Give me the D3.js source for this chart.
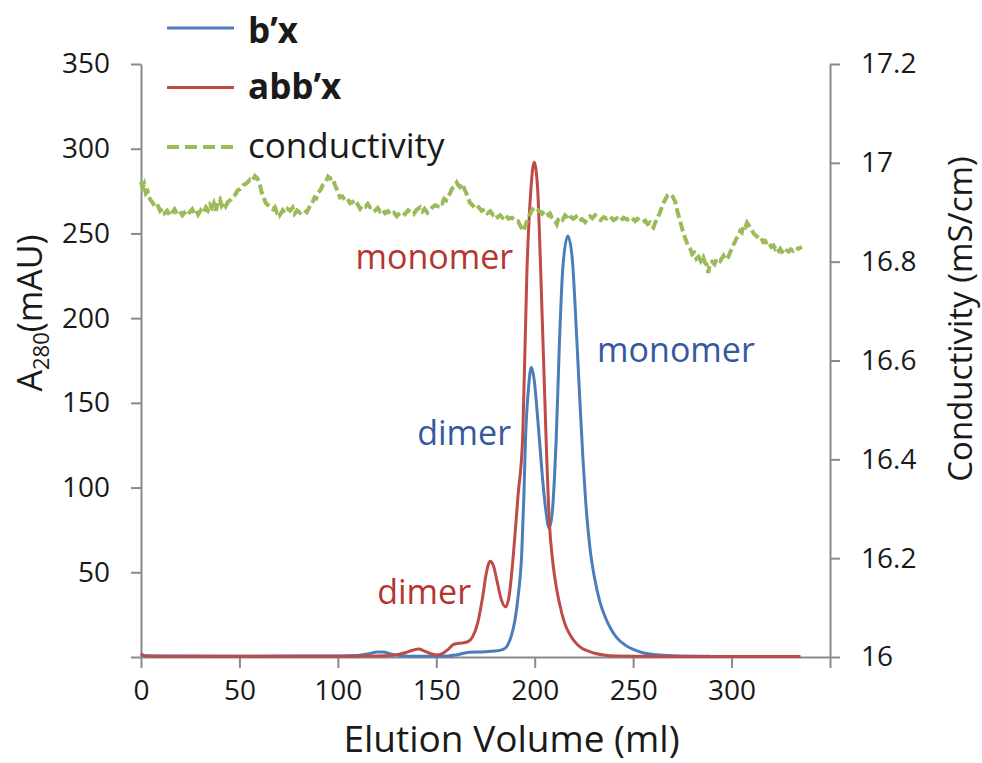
<!DOCTYPE html>
<html>
<head>
<meta charset="utf-8">
<script src="https://cdn.jsdelivr.net/npm/d3@7"></script>
<style>
  body { margin: 0; background: #fff; overflow: hidden; }
  svg { display: block; }
  svg text { font-family: "Open Sans", sans-serif; fill: #1a1a1a; }
  .axis path, .axis line { stroke: #8a8a8a; stroke-width: 2; }
  .axis text { font-size: 28px; }
</style>
</head>
<body>
<div id="vis"></div>
<script>
// elution volume (ml) vs A280 (mAU)
var bxTrace = [[0,2],[2,0.8],[10,0.6],[50,0.5],[100,0.6],[110,0.9],[116,2],[120,3],[123,3],[127,1.8],[132,0.8],
  [140,0.5],[150,0.5],[156,0.6],[160,1.2],[165,2.5],[172,3],[180,3.5],[184,4.5],[186,6.5],[188,12],[190,22],
  [191.5,35],[193.4,61],[194.5,95],[195.3,128],[196.8,158],[198.3,171],[199.8,163],[201,148],[202.4,128],
  [204,105],[205.5,88],[207.3,76],[208.8,84],[210,105],[210.9,128],[212.6,187],[214.3,230],[216.8,248.5],
  [219,236],[221.4,187],[223,150],[224.5,117],[226,90],[228,65],[230.5,46],[233,33],[236,23],[239,16],
  [242,11],[246,7],[250,4.5],[255,2.5],[262,1.3],[270,0.8],[289,0.5]];

var abbxTrace = [[0,1.5],[2,0.6],[20,0.4],[60,0.4],[100,0.5],[120,0.6],[128,1],[134,2.5],[138,4],[141,4.7],
  [144,3.5],[147,2],[150,1.2],[153,2],[156,4.5],[159,7.5],[163,8.3],[166,9],[168.5,12],[171,20],[173.5,35],
  [175.5,50],[177.3,56.5],[179,54],[181,44],[183,34],[185.3,29.5],[187,36],[189.2,61],[191.5,95],[193.9,130],
  [196,226],[198,275],[199.7,292],[201.4,278],[203.1,226],[205.8,128],[207.5,78],[209,58],[211,41],[213,29.5],
  [215.5,19],[218,13],[220,9.5],[223,6],[226,4],[230,2.4],[235,1.2],[242,0.6],[260,0.4],[300,0.3],[335,0.3]];

// elution volume (ml) vs conductivity (mS/cm)
var conductivityTrace = [[0,16.962],[0.8,16.95],[1.6,16.957],[2.5,16.938],[3.4,16.942],[4.6,16.926],[5.8,16.92],
  [7,16.912],[8.2,16.916],[9.7,16.903],[11,16.908],[12,16.898],[13.3,16.903],[14.7,16.893],[16,16.9],[17,16.906],
  [18.3,16.897],[19.8,16.902],[21,16.894],[22,16.899],[23.4,16.893],[24.9,16.901],[26,16.906],[27,16.898],
  [28,16.903],[29,16.895],[30.4,16.904],[31.7,16.899],[33,16.91],[34,16.904],[35,16.915],[36,16.909],[37,16.918],
  [38,16.903],[39,16.92],[40.1,16.926],[41,16.913],[42,16.919],[43,16.912],[44.2,16.921],[45.5,16.925],
  [46.9,16.932],[48,16.936],[49,16.944],[50.5,16.947],[52,16.955],[53.5,16.958],[55.4,16.966],[56.6,16.963],
  [57.9,16.973],[59.2,16.968],[60.5,16.954],[61.3,16.94],[62,16.935],[63,16.922],[63.9,16.916],[65.5,16.912],
  [67.1,16.906],[68,16.91],[69,16.9],[70,16.903],[70.6,16.895],[72,16.904],[73,16.899],[74.4,16.907],
  [75.7,16.903],[77,16.909],[78,16.897],[79.3,16.904],[80.8,16.899],[82.5,16.905],[84.2,16.9],[85.8,16.912],
  [87.4,16.923],[88.2,16.93],[89,16.928],[90,16.94],[91,16.944],[92.5,16.956],[94,16.963],[95,16.972],
  [96,16.968],[97.3,16.97],[98.6,16.954],[100,16.942],[101.1,16.93],[102.3,16.932],[103.5,16.925],
  [104.8,16.928],[106.2,16.918],[107.5,16.921],[109,16.912],[110,16.916],[111.3,16.907],[112.6,16.914],
  [114,16.911],[115.2,16.917],[116.4,16.91],[117.7,16.912],[119,16.904],[120.2,16.909],[121.4,16.902],
  [122.7,16.906],[124,16.898],[125.5,16.902],[127,16.895],[128.5,16.899],[129.9,16.892],[131.2,16.897],
  [132.5,16.901],[134,16.896],[135.7,16.904],[137,16.9],[138.5,16.896],[140,16.905],[141.8,16.91],[143,16.902],
  [144,16.907],[145.5,16.899],[146.8,16.903],[148,16.91],[149.5,16.914],[150.7,16.912],[151.9,16.92],
  [153,16.918],[154,16.927],[155,16.924],[155.9,16.933],[157,16.938],[158,16.948],[159.2,16.952],[160.4,16.96],
  [161.2,16.954],[162,16.951],[163,16.958],[163.5,16.955],[164.5,16.945],[165.5,16.936],[167,16.92],
  [168.9,16.912],[170.2,16.906],[171.5,16.91],[173,16.903],[174.8,16.906],[176,16.898],[177.5,16.902],
  [178.8,16.895],[180,16.898],[181.2,16.89],[182.4,16.894],[183.7,16.889],[185,16.895],[186.7,16.887],
  [188.5,16.889],[190,16.882],[191.6,16.882],[193,16.87],[194.3,16.862],[195.4,16.875],[196.6,16.887],
  [197.7,16.896],[198.7,16.905],[200,16.91],[201.1,16.906],[202.5,16.902],[203.8,16.897],[205,16.903],
  [206,16.9],[207,16.894],[207.8,16.897],[208.7,16.889],[209.5,16.884],[210.4,16.882],[211.2,16.876],
  [212,16.886],[213,16.89],[214.2,16.885],[215.4,16.894],[216.5,16.89],[217.5,16.884],[218.6,16.89],
  [219.7,16.887],[221,16.891],[222.5,16.882],[224,16.886],[225.6,16.88],[226.8,16.887],[228,16.892],
  [229.3,16.888],[230.7,16.894],[232,16.889],[233.5,16.884],[235,16.89],[236.6,16.887],[238.3,16.892],
  [240,16.884],[241.7,16.888],[243.4,16.882],[245.2,16.889],[247,16.885],[249,16.89],[251,16.882],
  [252.2,16.887],[253.5,16.884],[254.8,16.88],[256.1,16.883],[257.3,16.876],[258.5,16.879],[259.4,16.872],
  [260.3,16.869],[261.1,16.878],[262,16.886],[263,16.894],[263.7,16.9],[265,16.915],[266.3,16.926],
  [267.5,16.934],[268.8,16.937],[270,16.932],[271.3,16.922],[272.6,16.9],[273.9,16.882],[275.2,16.862],
  [276.4,16.848],[277.7,16.834],[279,16.826],[280,16.815],[281,16.818],[282.1,16.806],[283.2,16.81],
  [284.4,16.801],[285.6,16.809],[286.5,16.798],[287.4,16.794],[288.1,16.777],[289,16.795],[290.1,16.8],
  [291.3,16.795],[292.5,16.806],[294.2,16.801],[295.9,16.812],[297,16.804],[298.3,16.809],[299.6,16.822],
  [300.9,16.834],[301.7,16.84],[302.5,16.847],[303.4,16.852],[304.3,16.862],[305.2,16.859],[306,16.873],
  [307,16.87],[307.8,16.879],[309,16.872],[310,16.866],[311.4,16.856],[312.9,16.851],[314,16.846],
  [315,16.848],[316,16.84],[317.1,16.842],[318,16.835],[319,16.838],[320.2,16.83],[321.3,16.833],
  [322.2,16.826],[323,16.829],[324,16.822],[324.7,16.826],[325.6,16.82],[326.5,16.823],[327.3,16.818],
  [328.1,16.822],[329,16.82],[330,16.825],[331.2,16.822],[332.3,16.828],[334,16.826],[335.7,16.83]];

var xTicks = [0, 50, 100, 150, 200, 250, 300, 350];
var yTicks = [0, 50, 100, 150, 200, 250, 300, 350];
var y2Ticks = [16, 16.2, 16.4, 16.6, 16.8, 17, 17.2];

var legendNames = ["b\u2019x", "abb\u2019x", "conductivity"];

// peak labels: text, volume, A280 at the baseline start, series
var peakLabels = [
  { text: "monomer", vol: 109, a: 229, series: 1 },
  { text: "dimer", vol: 120, a: 31, series: 1 },
  { text: "dimer", vol: 140.3, a: 125, series: 0 },
  { text: "monomer", vol: 231.7, a: 174, series: 0 }
];

var lineColors = ["#4a7ebb", "#be4b48", "#9bbb59"];
var textColors = ["#3558a0", "#b5362f"];

var width = 982, height = 763;
var margin = { top: 64, left: 141, bottom: 106, right: 152 };

var svg = d3.select("#vis").append("svg")
  .attr("width", width)
  .attr("height", height);

var x = d3.scaleLinear().domain([0, 350]).range([margin.left, width - margin.right]);
var y = d3.scaleLinear().domain([0, 350]).range([height - margin.bottom, margin.top]);
var y2 = d3.scaleLinear().domain([16, 17.2]).range([height - margin.bottom, margin.top]);

// axes
svg.append("g")
  .attr("class", "axis")
  .attr("transform", "translate(0," + y(0) + ")")
  .call(d3.axisBottom(x).tickValues(xTicks).tickSize(11).tickSizeOuter(0).tickPadding(12)
    .tickFormat(function(d) { return d == 350 ? "" : d; }));

svg.append("g")
  .attr("class", "axis")
  .attr("transform", "translate(" + x(0) + ",0)")
  .call(d3.axisLeft(y).tickValues(yTicks).tickSize(10).tickSizeOuter(0).tickPadding(21)
    .tickFormat(function(d) { return d == 0 ? "" : d; }));

svg.append("g")
  .attr("class", "axis")
  .attr("transform", "translate(" + x(350) + ",0)")
  .call(d3.axisRight(y2).tickValues(y2Ticks).tickSize(10).tickSizeOuter(0).tickPadding(21)
    .tickFormat(function(d) { return +d.toFixed(1); }));

svg.selectAll(".axis .domain").attr("stroke", "#8a8a8a");
svg.selectAll(".axis text").attr("fill", "#1a1a1a");

// axis titles
svg.append("text")
  .attr("text-anchor", "middle")
  .attr("x", x(175) + 26)
  .attr("y", 752)
  .style("font-size", "37px")
  .text("Elution Volume (ml)");

var yTitle = svg.append("text")
  .attr("text-anchor", "middle")
  .attr("transform", "translate(42,313) rotate(-90)")
  .style("font-size", "34px");
yTitle.append("tspan").text("A");
yTitle.append("tspan").attr("dy", 7).style("font-size", "22px").text("280");
yTitle.append("tspan").attr("dy", -7).text("(mAU)");

svg.append("text")
  .attr("text-anchor", "middle")
  .attr("transform", "translate(972,319) rotate(-90)")
  .style("font-size", "33px")
  .text("Conductivity (mS/cm)");

// traces
var line = d3.line()
  .x(function(d) { return x(d[0]); })
  .y(function(d) { return y(d[1]); })
  .curve(d3.curveMonotoneX);

var line2 = d3.line()
  .x(function(d) { return x(d[0]); })
  .y(function(d) { return y2(d[1]); });

svg.append("path").datum(bxTrace)
  .attr("fill", "none").attr("stroke", lineColors[0]).attr("stroke-width", 3)
  .attr("d", line);

svg.append("path").datum(abbxTrace)
  .attr("fill", "none").attr("stroke", lineColors[1]).attr("stroke-width", 3)
  .attr("d", line);

svg.append("path").datum(conductivityTrace)
  .attr("fill", "none").attr("stroke", lineColors[2]).attr("stroke-width", 4)
  .attr("stroke-dasharray", "10,4")
  .attr("d", line2);

// peak labels
svg.selectAll(".peak")
  .data(peakLabels)
  .enter()
  .append("text")
  .attr("class", "peak")
  .attr("x", function(d) { return x(d.vol); })
  .attr("y", function(d) { return y(d.a); })
  .style("font-size", "34px")
  .style("fill", function(d) { return textColors[d.series]; })
  .text(function(d) { return d.text; });

// legend
var legend = svg.selectAll(".legend")
  .data(legendNames)
  .enter()
  .append("g")
  .attr("class", "legend")
  .attr("transform", function(d, i) { return "translate(167," + (28 + i * 59.5) + ")"; });

legend.append("line")
  .attr("x1", 0).attr("x2", 67)
  .attr("stroke", function(d, i) { return lineColors[i]; })
  .attr("stroke-width", function(d, i) { return i == 2 ? 4 : 3; })
  .attr("stroke-dasharray", function(d, i) { return i == 2 ? "12,6" : null; });

legend.append("text")
  .attr("x", 81)
  .attr("y", function(d, i) { return i == 0 ? 15 : 11; })
  .style("font-size", "35px")
  .style("font-weight", function(d, i) { return i < 2 ? "bold" : "normal"; })
  .text(function(d) { return d; });
</script>
</body>
</html>
